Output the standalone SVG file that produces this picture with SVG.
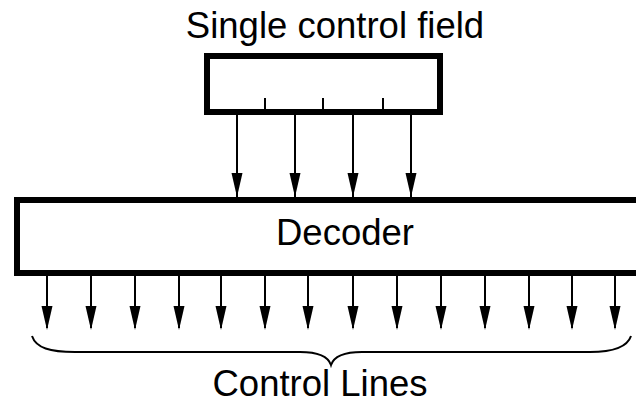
<svg xmlns="http://www.w3.org/2000/svg" width="636" height="404" viewBox="0 0 636 404">
<defs>
<style>
.box{fill:#fff;stroke:#000;stroke-width:6}
.ln{stroke:#000;stroke-width:2;fill:none}
.txt{font-family:"Liberation Sans",Arial,sans-serif;font-size:36.5px;fill:#000}
</style>
</defs>
<rect width="636" height="404" fill="#fff"/>
<g id="label-field"><text class="txt" x="335" y="38" text-anchor="middle">Single control field</text></g>
<g id="control-field">
<rect class="box" x="207" y="56" width="233" height="56"/>
<line class="ln" x1="265" y1="98" x2="265" y2="110"/>
<line class="ln" x1="323" y1="98" x2="323" y2="110"/>
<line class="ln" x1="383" y1="98" x2="383" y2="110"/>
</g>
<g id="decoder">
<rect class="box" x="17" y="200" width="640" height="73"/>
<text class="txt" x="345" y="245" text-anchor="middle">Decoder</text>
</g>
<g id="connectors">
<g class="ln">
<path d="M237,115 V197"/><path d="M295,115 V197"/><path d="M353,115 V197"/><path d="M411,115 V197"/>
</g>
<g fill="#000">
<path d="M231.5,173 h11 l-5.5,24 z"/><path d="M289.5,173 h11 l-5.5,24 z"/><path d="M347.5,173 h11 l-5.5,24 z"/><path d="M405.5,173 h11 l-5.5,24 z"/>
</g>
<g class="ln">
<path d="M47,276 V328"/><path d="M91,276 V328"/><path d="M135,276 V328"/><path d="M179,276 V328"/><path d="M221,276 V328"/><path d="M265,276 V328"/><path d="M308,276 V328"/><path d="M353,276 V328"/><path d="M397,276 V328"/><path d="M441,276 V328"/><path d="M485,276 V328"/><path d="M529,276 V328"/><path d="M572,276 V328"/><path d="M615,276 V328"/>
</g>
<g fill="#000">
<path d="M41.5,306 h11 l-5.5,24 z"/><path d="M85.5,306 h11 l-5.5,24 z"/><path d="M129.5,306 h11 l-5.5,24 z"/><path d="M173.5,306 h11 l-5.5,24 z"/><path d="M215.5,306 h11 l-5.5,24 z"/><path d="M259.5,306 h11 l-5.5,24 z"/><path d="M302.5,306 h11 l-5.5,24 z"/><path d="M347.5,306 h11 l-5.5,24 z"/><path d="M391.5,306 h11 l-5.5,24 z"/><path d="M435.5,306 h11 l-5.5,24 z"/><path d="M479.5,306 h11 l-5.5,24 z"/><path d="M523.5,306 h11 l-5.5,24 z"/><path d="M566.5,306 h11 l-5.5,24 z"/><path d="M609.5,306 h11 l-5.5,24 z"/>
</g>
</g>
<g id="brace">
<path class="ln" d="M32,336 C36,348 50,352 75,352 L300,352 C318,352 328,356 331,365 C334,356 344,352 362,352 L590,352 C612,352 627,348 631,336"/>
</g>
<g id="label-lines"><text class="txt" x="320" y="396" text-anchor="middle">Control Lines</text></g>
</svg>
